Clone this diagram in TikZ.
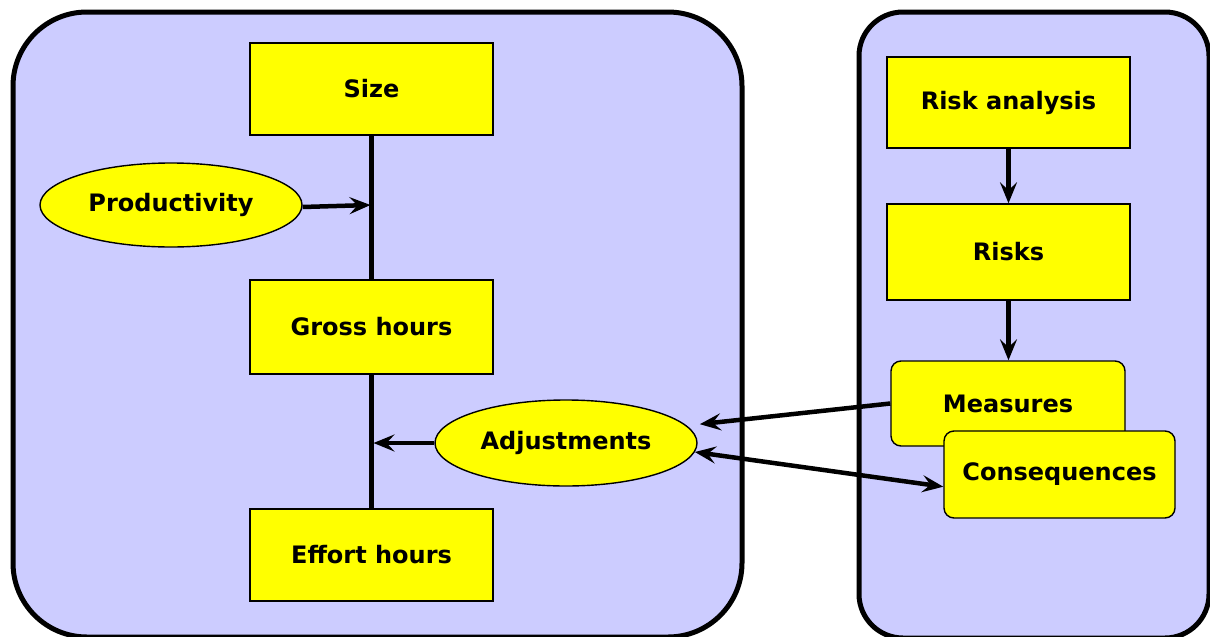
\documentclass[tikz,border=0pt]{standalone}
\usepackage{fontspec}
\setmainfont{DejaVu Sans}
\usetikzlibrary{arrows.meta,shapes.geometric,calc}
\definecolor{panelblue}{HTML}{CCCCFF}
\definecolor{boxyellow}{HTML}{FFFF00}
\begin{document}
\begin{tikzpicture}[x=1pt,y=-1pt,
  every node/.style={font=\fontsize{24}{28}\selectfont\bfseries, text=black},
  panel/.style={draw=black, line width=5pt, fill=panelblue},
  stepbox/.style={draw=black, line width=1.4pt, fill=boxyellow, rectangle, inner sep=0pt},
  softbox/.style={stepbox, rounded corners=10pt},
  oval/.style={draw=black, line width=1.4pt, fill=boxyellow, ellipse, inner sep=0pt},
  link/.style={draw=black, line width=4.5pt},
  tip/.style={link, -{Stealth[length=21pt,width=17pt,inset=8pt]}},
  twotip/.style={link, {Stealth[length=21pt,width=17pt,inset=8pt]}-{Stealth[length=21pt,width=17pt,inset=8pt]}}]
\useasboundingbox (0,0) rectangle (1210,637);

% background panels
\draw[panel, rounded corners=74pt] (13,12) rectangle (742,637);
\draw[panel, rounded corners=44pt] (859,12) rectangle (1209,638);

% estimation chain
\node[stepbox, minimum width=243pt, minimum height=92pt] (size) at (371.5,89) {Size};
\node[oval, minimum width=262pt, minimum height=84pt] (prod) at (171,205) {Productivity};
\node[stepbox, minimum width=243pt, minimum height=94pt] (gross) at (371.5,327) {Gross hours};
\node[stepbox, minimum width=243pt, minimum height=92pt] (effort) at (371.5,555) {Effort hours};
\node[oval, minimum width=262pt, minimum height=86pt] (adj) at (566,443) {Adjustments};

% risk chain
\node[stepbox, minimum width=243pt, minimum height=91pt] (riskan) at (1008.5,102.5) {Risk analysis};
\node[stepbox, minimum width=243pt, minimum height=96pt] (risks) at (1008.5,252) {Risks};
\node[softbox, minimum width=234pt, minimum height=85pt] (measures) at (1008,403.5) {Measures};
\node[softbox, minimum width=231pt, minimum height=87pt] (conseq) at (1059.5,474.5) {Consequences};

% junction points on the main line
\coordinate (jprod) at (size.south |- prod.east);
\coordinate (jadj) at (size.south |- adj.west);

% main vertical line
\draw[link] (size.south) -- (gross.north);
\draw[link] (gross.south) -- (effort.north);

% inputs to the main line
\draw[tip] ($(prod.east)+(0,2)$) -- ($(jprod)+(-1,0)$);
\draw[tip] (adj.west) -- ($(jadj)+(2,0)$);

% risk chain arrows
\draw[tip] (riskan.south) -- (risks.north);
\draw[tip] (risks.south) -- (risks.south |- measures.north);

% links between the panels
\draw[tip] (measures.west) -- ($(adj.9)+(15,0)$);
\draw[twotip] (adj.-4) -- (conseq.186);
\end{tikzpicture}
\end{document}
